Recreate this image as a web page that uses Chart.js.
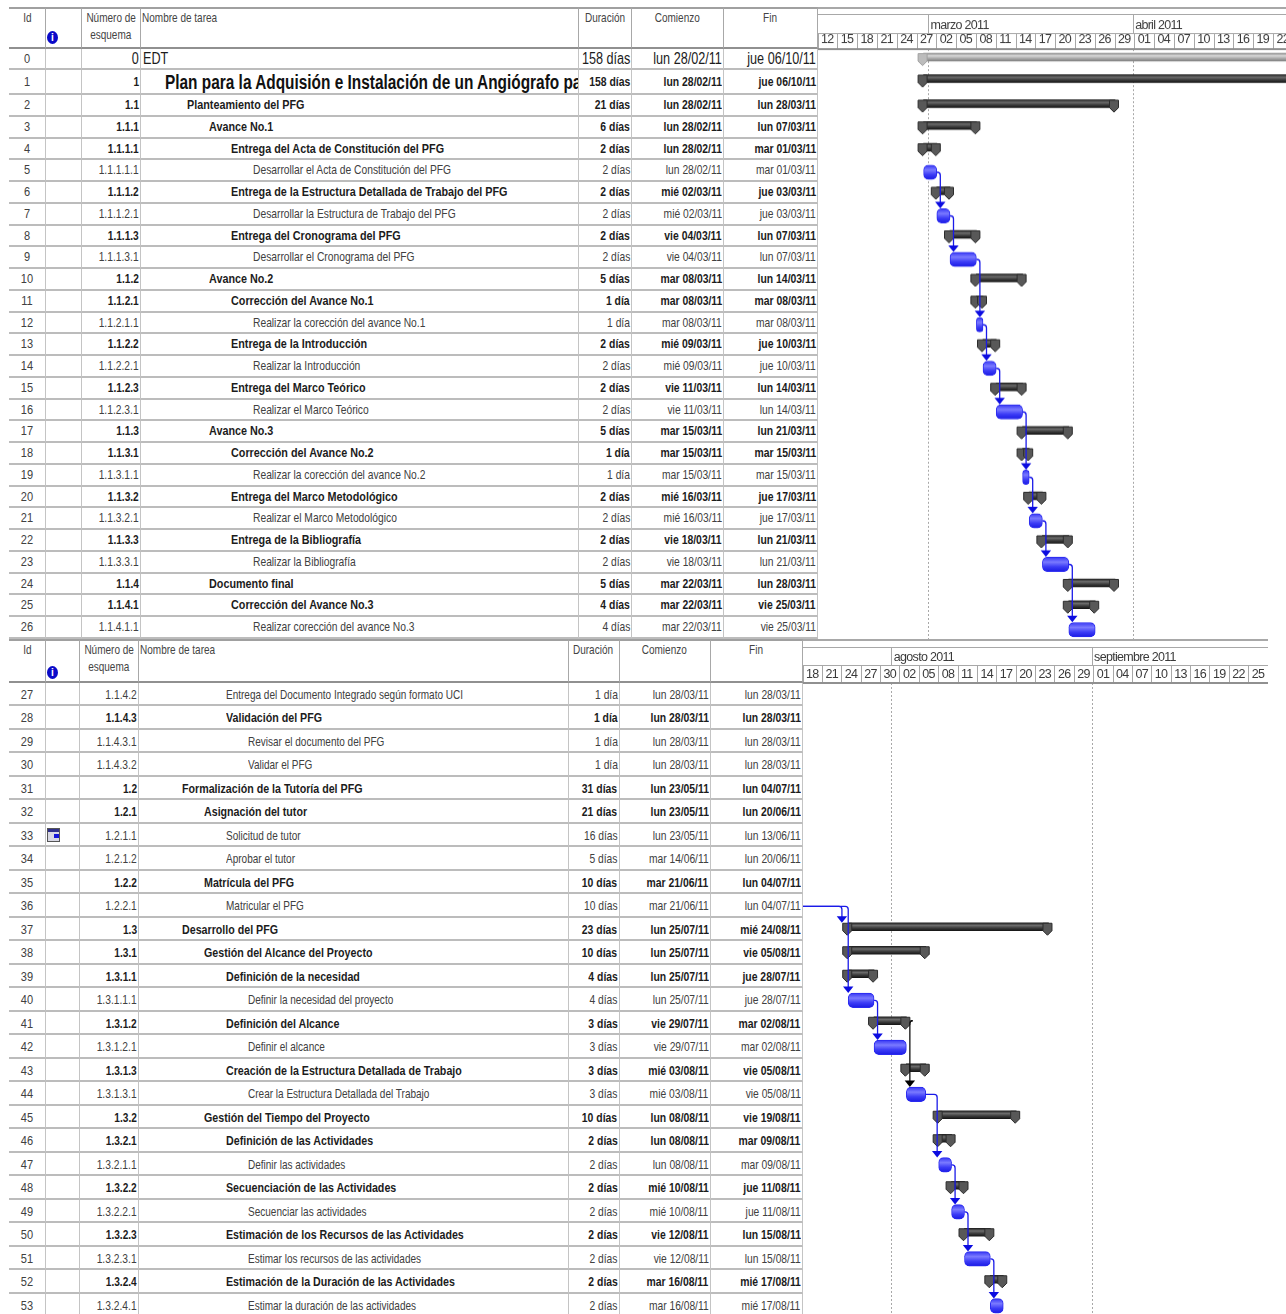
<!DOCTYPE html>
<html>
<head>
<meta charset="utf-8">
<title>Cronograma PFG</title>
<script src="https://cdn.jsdelivr.net/npm/chart.js@4/dist/chart.umd.min.js"></script>
<style>
    html, body { margin: 0; padding: 0; background: #fff; overflow: hidden; }
    #sheet { position: relative; width: 1286px; height: 1314px; overflow: hidden; font-family: "Liberation Sans", sans-serif; color: #404040; }
    .cell { position: absolute; box-sizing: border-box; white-space: nowrap; overflow: hidden; font-size: 13px; border-right: 1px solid #c4c4c4; border-bottom: 2px solid #bcbcbc; }
    .cell span { position: absolute; top: 0; display: block; }
    .cell.bold { font-weight: bold; color: #1c1c1c; }
    .head { position: absolute; box-sizing: border-box; white-space: nowrap; font-size: 13px; line-height: 17px; text-align: center; border-right: 1px solid #a8a8a8; border-top: 2px solid #a0a0a0; border-bottom: 2px solid #909090; color: #444; }
    .head span { display: inline-block; margin: 0 -20px; transform: scaleX(.77); }
    .rule { position: absolute; background: #a8a8a8; }
    .gantt { position: absolute; }
    .info { position: absolute; width: 11px; height: 13px; border-radius: 50%; background: #0a0ac8; color: #fff; font: bold 10px/13px "Liberation Sans", sans-serif; text-align: center; }
    .cal { position: absolute; width: 13px; height: 14px; background: linear-gradient(#30308a 0 3px, #d8d8e4 3px); border: 1px solid #555; box-sizing: border-box; }
    .cal i { position: absolute; right: 0; bottom: 3px; width: 5px; height: 4px; background: #1414d8; }
</style>
</head>
<body>
<div id="sheet"></div>
<script>
// Values read from the project sheet, one entry per task id
const outlineNumbers = ['0','1','1.1','1.1.1','1.1.1.1','1.1.1.1.1','1.1.1.2','1.1.1.2.1','1.1.1.3','1.1.1.3.1',
    '1.1.2','1.1.2.1','1.1.2.1.1','1.1.2.2','1.1.2.2.1','1.1.2.3','1.1.2.3.1','1.1.3','1.1.3.1','1.1.3.1.1',
    '1.1.3.2','1.1.3.2.1','1.1.3.3','1.1.3.3.1','1.1.4','1.1.4.1','1.1.4.1.1','1.1.4.2','1.1.4.3','1.1.4.3.1',
    '1.1.4.3.2','1.2','1.2.1','1.2.1.1','1.2.1.2','1.2.2','1.2.2.1','1.3','1.3.1','1.3.1.1',
    '1.3.1.1.1','1.3.1.2','1.3.1.2.1','1.3.1.3','1.3.1.3.1','1.3.2','1.3.2.1','1.3.2.1.1','1.3.2.2','1.3.2.2.1',
    '1.3.2.3','1.3.2.3.1','1.3.2.4','1.3.2.4.1'];

const taskNames = ['EDT','Plan para la Adquisión e Instalación de un Angiógrafo para','Planteamiento del PFG','Avance No.1',
    'Entrega del Acta de Constitución del PFG','Desarrollar el Acta de Constitución del PFG',
    'Entrega de la Estructura Detallada de Trabajo del PFG','Desarrollar la Estructura de Trabajo del PFG',
    'Entrega del Cronograma del PFG','Desarrollar el Cronograma del PFG','Avance No.2','Corrección del Avance No.1',
    'Realizar la corección del avance No.1','Entrega de la Introducción','Realizar la Introducción',
    'Entrega del Marco Teórico','Realizar el Marco Teórico','Avance No.3','Corrección del Avance No.2',
    'Realizar la corección del avance No.2','Entrega del Marco Metodológico','Realizar el Marco Metodológico',
    'Entrega de la Bibliografía','Realizar la Bibliografía','Documento final','Corrección del Avance No.3',
    'Realizar corección del avance No.3','Entrega del Documento Integrado según formato UCI','Validación del PFG',
    'Revisar el documento del PFG','Validar el PFG','Formalización de la Tutoría del PFG','Asignación del tutor',
    'Solicitud de tutor','Aprobar el tutor','Matrícula del PFG','Matricular el PFG','Desarrollo del PFG',
    'Gestión del Alcance del Proyecto','Definición de la necesidad','Definir la necesidad del proyecto',
    'Definición del Alcance','Definir el alcance','Creación de la Estructura Detallada de Trabajo',
    'Crear la Estructura Detallada del Trabajo','Gestión del Tiempo del Proyecto','Definición de las Actividades',
    'Definir las actividades','Secuenciación de las Actividades','Secuenciar las actividades',
    'Estimación de los Recursos de las Actividades','Estimar los recursos de las actividades',
    'Estimación de la Duración de las Actividades','Estimar la duración de las actividades'];

const durations = ['158 días','158 días','21 días','6 días','2 días','2 días','2 días','2 días','2 días','2 días',
    '5 días','1 día','1 día','2 días','2 días','2 días','2 días','5 días','1 día','1 día',
    '2 días','2 días','2 días','2 días','5 días','4 días','4 días','1 día','1 día','1 día',
    '1 día','31 días','21 días','16 días','5 días','10 días','10 días','23 días','10 días','4 días',
    '4 días','3 días','3 días','3 días','3 días','10 días','2 días','2 días','2 días','2 días',
    '2 días','2 días','2 días','2 días'];

const startDates = ['lun 28/02/11','lun 28/02/11','lun 28/02/11','lun 28/02/11','lun 28/02/11','lun 28/02/11','mié 02/03/11','mié 02/03/11','vie 04/03/11','vie 04/03/11',
    'mar 08/03/11','mar 08/03/11','mar 08/03/11','mié 09/03/11','mié 09/03/11','vie 11/03/11','vie 11/03/11','mar 15/03/11','mar 15/03/11','mar 15/03/11',
    'mié 16/03/11','mié 16/03/11','vie 18/03/11','vie 18/03/11','mar 22/03/11','mar 22/03/11','mar 22/03/11','lun 28/03/11','lun 28/03/11','lun 28/03/11',
    'lun 28/03/11','lun 23/05/11','lun 23/05/11','lun 23/05/11','mar 14/06/11','mar 21/06/11','mar 21/06/11','lun 25/07/11','lun 25/07/11','lun 25/07/11',
    'lun 25/07/11','vie 29/07/11','vie 29/07/11','mié 03/08/11','mié 03/08/11','lun 08/08/11','lun 08/08/11','lun 08/08/11','mié 10/08/11','mié 10/08/11',
    'vie 12/08/11','vie 12/08/11','mar 16/08/11','mar 16/08/11'];

const endDates = ['jue 06/10/11','jue 06/10/11','lun 28/03/11','lun 07/03/11','mar 01/03/11','mar 01/03/11','jue 03/03/11','jue 03/03/11','lun 07/03/11','lun 07/03/11',
    'lun 14/03/11','mar 08/03/11','mar 08/03/11','jue 10/03/11','jue 10/03/11','lun 14/03/11','lun 14/03/11','lun 21/03/11','mar 15/03/11','mar 15/03/11',
    'jue 17/03/11','jue 17/03/11','lun 21/03/11','lun 21/03/11','lun 28/03/11','vie 25/03/11','vie 25/03/11','lun 28/03/11','lun 28/03/11','lun 28/03/11',
    'lun 28/03/11','lun 04/07/11','lun 20/06/11','lun 13/06/11','lun 20/06/11','lun 04/07/11','lun 04/07/11','mié 24/08/11','vie 05/08/11','jue 28/07/11',
    'jue 28/07/11','mar 02/08/11','mar 02/08/11','vie 05/08/11','vie 05/08/11','vie 19/08/11','mar 09/08/11','mar 09/08/11','jue 11/08/11','jue 11/08/11',
    'lun 15/08/11','lun 15/08/11','mié 17/08/11','mié 17/08/11'];

const upperDayLabels = ['12','15','18','21','24','27','02','05','08','11','14','17','20','23','26','29','01','04','07','10','13','16','19','22'];
const lowerDayLabels = ['18','21','24','27','30','02','05','08','11','14','17','20','23','26','29','01','04','07','10','13','16','19','22','25'];
const upperMonths = ['marzo 2011','abril 2011'];
const lowerMonths = ['agosto 2011','septiembre 2011'];
const upperMonthStarts = ['01/03/11','01/04/11'];
const lowerMonthStarts = ['01/08/11','01/09/11'];

// predecessor -> successor, by task id
const upperLinks = [[5,7],[7,9],[9,12],[12,14],[14,16],[16,19],[19,21],[21,23],[23,26]];
const lowerLinks = [[36,37,-9.8],[36,40,-3.5],[40,42],[41,44],[44,47,-5],[47,49],[49,51],[51,53]];

const AXIS_FONT = { family: '"Liberation Sans", sans-serif', size: 12.5 };

function dayOf(text) {
    const parts = text.split(' ').pop().split('/');
    return Date.UTC(2000 + Number(parts[2]), Number(parts[1]) - 1, Number(parts[0])) / 864e5;
}

function isSummary(i) {
    const next = outlineNumbers[i + 1];
    return i === 0 || (next !== undefined && next.startsWith(outlineNumbers[i] + '.'));
}

// Rows of different height: a category scale that lays its rows out from a list
class RowScale extends Chart.CategoryScale {
    getPixelForValue(value) {
        const heights = this.options.rowHeights;
        let y = this.top;
        for (let i = 0; i < value; i++) y += heights[i];
        return y + this.options.barCenter;
    }
}
RowScale.id = 'rows';
RowScale.defaults = {};
Chart.register(RowScale);

const sheet = document.getElementById('sheet');

function addBox(cls, style, text) {
    const el = document.createElement('div');
    el.className = cls;
    el.style.cssText = style;
    if (text !== undefined) el.innerHTML = text;
    sheet.appendChild(el);
    return el;
}

function buildTable(p) {
    const e = p.cols;
    const top = p.headTop, h = p.headBottom - p.headTop;
    const heads = ['Id', '', 'Número de<br>esquema', 'Nombre de tarea', 'Duración', 'Comienzo', 'Fin'];
    heads.forEach((t, c) => {
        const inner = t.split('<br>').map(line => `<span style="${c === 3 ? 'margin:0;transform-origin:left;' : ''}">${line}</span>`).join('<br>');
        addBox('head', `left:${e[c]}px;top:${top}px;width:${e[c + 1] - e[c]}px;height:${h}px;` + (c === 3 ? 'text-align:left;padding-left:1px;' : ''), inner);
    });
    addBox('info', `left:${p.infoX}px;top:${p.infoY}px;`, 'i');

    let y = p.headBottom;
    p.rowHeights.forEach((rh, k) => {
        const i = p.first + k;
        const isBold = isSummary(i) && i > 0;
        const level = i === 0 ? 0 : outlineNumbers[i].split('.').length;
        const put = (c, text, align, more) => {
            const bold = c > 0 && isBold;
            let pos;
            if (align === 'right') {
                const sq = bold ? (c === 2 ? 0.78 : 0.8) : 0.79;
                pos = `right:1px;transform-origin:right;transform:scaleX(${sq});`;
            } else if (align === 'center') {
                pos = `left:50%;transform:translateX(-50%) scaleX(.85);`;
            } else {
                const sq = i === 1 ? 0.77 : (bold ? p.nameBold : p.nameNormal);
                pos = `left:${p.indent(level)}px;transform-origin:left;transform:scaleX(${sq});`;
            }
            addBox('cell' + (bold ? ' bold' : ''),
                `left:${e[c]}px;top:${y}px;width:${e[c + 1] - e[c]}px;height:${rh}px;line-height:${rh + p.textShift}px;`,
                `<span style="${pos}${more || ''}">${text}</span>`);
        };
        const big = i === 0 ? 'font-size:16px;color:#1c1c1c;' : '';
        put(0, String(i), 'center');
        put(1, '', 'left');
        put(2, outlineNumbers[i], 'right', big);
        put(3, taskNames[i], 'left', i === 1 ? 'font-size:20px;color:#111;' : big);
        put(4, durations[i], 'right', big);
        put(5, startDates[i], 'right', big);
        put(6, endDates[i], 'right', big);
        if (i === 33) addBox('cal', `left:47px;top:${y + 4}px;`, '<i></i>');
        y += rh;
    });
}

function barGradient(ctx, center, half, stops, fallback) {
    if (!Number.isFinite(center)) return fallback;
    const g = ctx.createLinearGradient(0, center - half, 0, center + half);
    stops.forEach((c, i) => g.addColorStop(i / (stops.length - 1), c));
    return g;
}

// Summary end caps and dependency arrows, placed through the chart's scales
const ganttDecor = {
    id: 'ganttDecor',
    beforeDraw(chart) {
        // the sheet's axis text is a condensed face, none is installed
        chart.ctx.letterSpacing = '-0.7px';
    },
    afterDatasetsDraw(chart, args, opts) {
        const { ctx, chartArea, scales } = chart;
        const x = scales.x, yS = scales.ySummary, yT = scales.yTask;
        const first = opts.first;
        ctx.save();
        ctx.beginPath();
        ctx.rect(chartArea.left, chartArea.top, chartArea.width, chartArea.height);
        ctx.clip();

        const cap = (px, cy, fill, edge) => {
            ctx.fillStyle = fill;
            ctx.strokeStyle = edge;
            ctx.lineWidth = 1;
            ctx.beginPath();
            ctx.moveTo(px - 5.5, cy - 3.5);
            ctx.lineTo(px + 3.5, cy - 3.5);
            ctx.lineTo(px + 3.5, cy + 4);
            ctx.lineTo(px - 1, cy + 8.5);
            ctx.lineTo(px - 5.5, cy + 4);
            ctx.closePath();
            ctx.fill();
            ctx.stroke();
        };
        chart.data.labels.forEach((id, k) => {
            if (!isSummary(id)) return;
            const cy = yS.getPixelForValue(k);
            const fill = id === 0 ? '#bcbcbc' : '#585858';
            const edge = id === 0 ? '#a0a0a0' : '#2c2c2c';
            cap(x.getPixelForValue(dayOf(startDates[id])), cy, fill, edge);
            cap(x.getPixelForValue(dayOf(endDates[id]) + 1), cy, fill, edge);
        });

        opts.links.forEach(link => {
            const from = link[0], to = link[1], dx = link[2] || 0;
            const fromSummary = isSummary(from), toSummary = isSummary(to);
            const color = fromSummary ? '#101010' : '#1a1ae8';
            const sy = (fromSummary ? yS : yT).getPixelForValue(from - first);
            const sx = x.getPixelForValue(dayOf(endDates[from]) + 1) + (fromSummary ? 4 : 0);
            const tx = x.getPixelForValue(dayOf(startDates[to])) + 3.5 + dx;
            const half = toSummary ? 4 : 7.5;
            const tip = (toSummary ? yS : yT).getPixelForValue(to - first) - half;
            ctx.strokeStyle = color;
            ctx.lineWidth = 1.3;
            ctx.beginPath();
            ctx.moveTo(sx, sy);
            ctx.arcTo(tx, sy, tx, tip, 3);
            ctx.lineTo(tx, tip - 4);
            ctx.stroke();
            ctx.fillStyle = color === '#101010' ? '#000' : '#0c0ce0';
            ctx.beginPath();
            ctx.moveTo(tx - 5.2, tip - 6.5);
            ctx.lineTo(tx + 5.2, tip - 6.5);
            ctx.lineTo(tx, tip);
            ctx.closePath();
            ctx.fill();
        });
        ctx.restore();
    }
};

function buildChart(p) {
    const canvas = document.createElement('canvas');
    const wrap = addBox('gantt', `left:${p.cols[7]}px;top:${p.canvasTop}px;width:${p.canvasRight - p.cols[7]}px;height:${p.canvasBottom - p.canvasTop}px;`);
    wrap.appendChild(canvas);

    const ids = p.rowHeights.map((_, k) => p.first + k);
    const span = id => [dayOf(startDates[id]), dayOf(endDates[id]) + 1];
    const minDay = dayOf(p.firstDay);
    const maxDay = minDay + (p.canvasRight - p.cols[7]) / p.pxPerDay;
    const monthDays = p.monthStarts.map(t => dayOf(t) - 0.25);
    const fixed = height => scale => { scale.height = height; scale.paddingLeft = 0; scale.paddingRight = 0; };

    new Chart(canvas, {
        type: 'bar',
        data: {
            labels: ids,
            datasets: [{
                label: 'Resumen',
                data: ids.map(id => isSummary(id) ? span(id) : null),
                yAxisID: 'ySummary',
                grouped: false,
                barThickness: 8,
                borderWidth: 0,
                backgroundColor(c) {
                    if (c.dataIndex === undefined) return '#444';
                    const cy = c.chart.scales.ySummary.getPixelForValue(c.dataIndex);
                    return barGradient(c.chart.ctx, cy, 4, ids[c.dataIndex] === 0
                        ? ['#8c8c8c', '#d8d8d8', '#a8a8a8', '#808080']
                        : ['#1e1e1e', '#6c6c6c', '#3a3a3a', '#161616'], '#444');
                }
            }, {
                label: 'Tarea',
                data: ids.map(id => isSummary(id) ? null : span(id)),
                yAxisID: 'yTask',
                grouped: false,
                barThickness: 14.5,
                borderWidth: 1,
                borderSkipped: false,
                borderRadius: 5,
                borderColor: '#2a2af0',
                backgroundColor(c) {
                    if (c.dataIndex === undefined) return '#3030f0';
                    const cy = c.chart.scales.yTask.getPixelForValue(c.dataIndex);
                    return barGradient(c.chart.ctx, cy, 7, ['#3a3af4', '#7a7aff', '#3c3cf6', '#1c1ce4'], '#3030f0');
                }
            }]
        },
        options: {
            indexAxis: 'y',
            responsive: true,
            maintainAspectRatio: false,
            animation: false,
            layout: { padding: { top: p.pad, left: 0, right: 0, bottom: 0 } },
            plugins: {
                legend: { display: false },
                title: { display: false },
                tooltip: { enabled: false },
                ganttDecor: { links: p.links, first: p.first }
            },
            scales: {
                x: {
                    type: 'linear', position: 'top', weight: 0, min: minDay, max: maxDay,
                    afterFit: fixed(p.dayBand),
                    afterBuildTicks(scale) { scale.ticks = p.dayLabels.map((_, i) => ({ value: minDay + 3 * i })); },
                    grid: { drawOnChartArea: false, tickLength: p.dayBand, tickColor: '#a8a8a8', tickWidth: 1 },
                    border: { display: true, color: '#909090', width: 2 },
                    ticks: {
                        autoSkip: false, maxRotation: 0, minRotation: 0, align: 'start', labelOffset: 3, padding: -p.dayBand + 1,
                        color: '#3a3a3a', font: AXIS_FONT,
                        callback(value, i) { return p.dayLabels[i]; }
                    }
                },
                xMonth: {
                    type: 'linear', axis: 'x', position: 'top', weight: 1, min: minDay, max: maxDay,
                    afterFit: fixed(p.monthBand),
                    afterBuildTicks(scale) { scale.ticks = monthDays.map(value => ({ value })); },
                    grid: { drawOnChartArea: true, color: '#a8a8a8', tickLength: p.monthBand, tickColor: '#a8a8a8', tickBorderDash: [] },
                    border: { display: true, color: '#a8a8a8', width: 1, dash: [2, 2] },
                    ticks: {
                        autoSkip: false, maxRotation: 0, minRotation: 0, align: 'start', labelOffset: 2, padding: -p.monthBand,
                        color: '#3a3a3a', font: AXIS_FONT,
                        callback(value, i) { return p.months[i]; }
                    }
                },
                ySummary: { type: 'rows', axis: 'y', display: false, rowHeights: p.rowHeights, barCenter: p.summaryCenter, afterFit: s => { s.width = 0; } },
                yTask: { type: 'rows', axis: 'y', display: false, rowHeights: p.rowHeights, barCenter: p.taskCenter, afterFit: s => { s.width = 0; } }
            }
        },
        plugins: [ganttDecor]
    });
}

const upperHeights = [21.5, 25].concat(new Array(25).fill(21.75));
const lowerHeights = new Array(27).fill(23.5);

const panels = [{
    first: 0, rowHeights: upperHeights, headTop: 7, headBottom: 48.5, textShift: -1,
    cols: [9, 46, 82, 141, 579, 632, 724, 818],
    indent: level => 2 + 22 * level, nameNormal: 0.79, nameBold: 0.83,
    infoX: 47, infoY: 31, canvasTop: 7, canvasRight: 1286, canvasBottom: 638.75,
    firstDay: '12/02/11', pxPerDay: 6.6, pad: 7, monthBand: 19, dayBand: 15.5,
    dayLabels: upperDayLabels, months: upperMonths, monthStarts: upperMonthStarts, links: upperLinks,
    summaryCenter: 8.5, taskCenter: 11.75
}, {
    first: 27, rowHeights: lowerHeights, headTop: 639, headBottom: 682.75, textShift: 0,
    cols: [9, 46, 80, 139, 568.5, 619.5, 710.5, 802.5],
    indent: level => -1 + 22 * level, nameNormal: 0.77, nameBold: 0.82,
    infoX: 47, infoY: 666, canvasTop: 639, canvasRight: 1268, canvasBottom: 1317,
    firstDay: '18/07/11', pxPerDay: 6.46, pad: 8, monthBand: 18, dayBand: 17.75,
    dayLabels: lowerDayLabels, months: lowerMonths, monthStarts: lowerMonthStarts, links: lowerLinks,
    summaryCenter: 9, taskCenter: 12.2
}];

panels.forEach(p => {
    buildTable(p);
    buildChart(p);
    const w = p.canvasRight - p.cols[7];
    addBox('rule', `left:${p.cols[7]}px;top:${p.headTop}px;width:${w}px;height:2px;`);
    addBox('rule', `left:${p.cols[7]}px;top:${p.canvasTop + p.pad}px;width:${w}px;height:1px;`);
});
</script>
</body>
</html>
